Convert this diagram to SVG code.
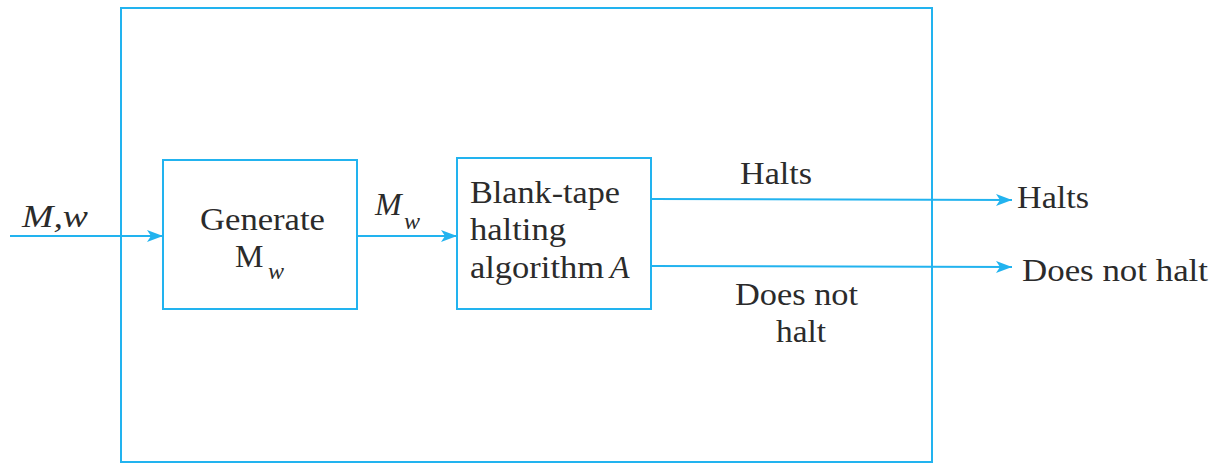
<svg xmlns="http://www.w3.org/2000/svg" width="1222" height="463" viewBox="0 0 1222 463">
<style>
.box{fill:none;stroke:#22b3ef;stroke-width:2}
.ln{fill:none;stroke:#22b3ef;stroke-width:2}
text{font-family:'Liberation Serif','Times New Roman','DejaVu Serif',serif;font-size:32px;fill:#2b2b2b}
.it{font-style:italic}
.sub{font-style:italic;font-size:24px}
</style>
<defs>
<marker id="ah" markerWidth="16" markerHeight="12" refX="16" refY="6" orient="auto" markerUnits="userSpaceOnUse">
<path d="M0,0 L16,6 L0,12 L4,6 Z" fill="#22b3ef"/>
</marker>
</defs>
<g id="outer"><rect class="box" x="121" y="8" width="811" height="454"/></g>
<g id="generate">
<rect class="box" x="163" y="160" width="194" height="149"/>
<text x="200" y="230" textLength="125" lengthAdjust="spacingAndGlyphs">Generate</text>
<text x="235" y="267">M</text><text class="sub" x="268" y="279">w</text>
</g>
<g id="blanktape">
<rect class="box" x="457" y="158" width="194" height="151"/>
<text x="470" y="203" textLength="150" lengthAdjust="spacingAndGlyphs">Blank-tape</text>
<text x="470" y="240" textLength="96" lengthAdjust="spacingAndGlyphs">halting</text>
<text x="470" y="278" textLength="134" lengthAdjust="spacingAndGlyphs">algorithm</text><text class="it" x="610" y="278">A</text>
</g>
<g id="connectors">
<line class="ln" x1="10" y1="236" x2="163" y2="236" marker-end="url(#ah)"/>
<line class="ln" x1="357" y1="236" x2="457" y2="236" marker-end="url(#ah)"/>
<line class="ln" x1="651" y1="199" x2="1012" y2="200" marker-end="url(#ah)"/>
<line class="ln" x1="651" y1="266" x2="1012" y2="267" marker-end="url(#ah)"/>
</g>
<g id="labels">
<text class="it" x="22" y="227" textLength="66" lengthAdjust="spacingAndGlyphs">M,w</text>
<text class="it" x="375" y="215">M</text><text class="sub" x="404" y="229">w</text>
<text x="740" y="184" textLength="72" lengthAdjust="spacingAndGlyphs">Halts</text>
<text x="1017" y="208" textLength="72" lengthAdjust="spacingAndGlyphs">Halts</text>
<text x="1022" y="281" textLength="186" lengthAdjust="spacingAndGlyphs">Does not halt</text>
<text x="735" y="305" textLength="123" lengthAdjust="spacingAndGlyphs">Does not</text>
<text x="776" y="342" textLength="50" lengthAdjust="spacingAndGlyphs">halt</text>
</g>
</svg>
